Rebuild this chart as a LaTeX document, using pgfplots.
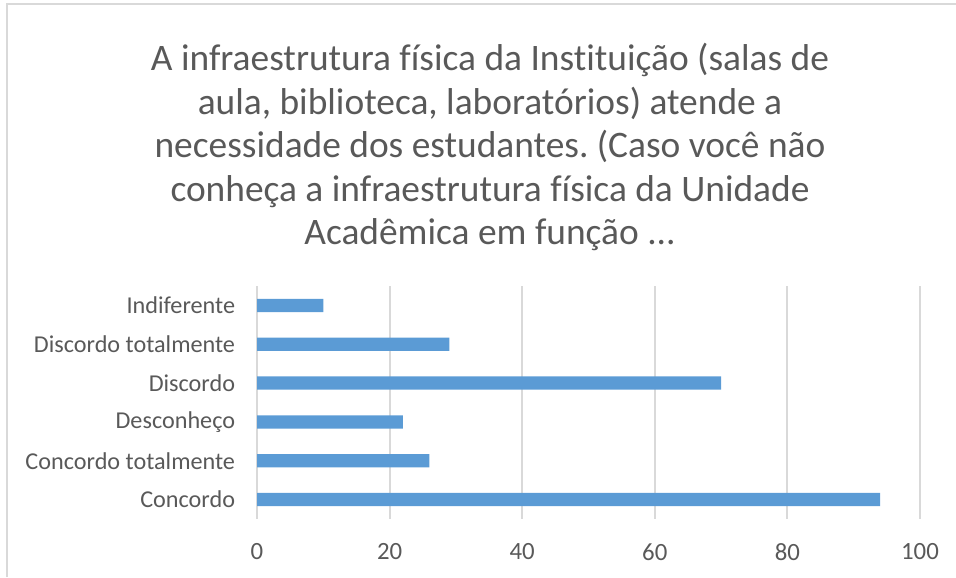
\documentclass[border=0pt]{standalone}
\usepackage{fontspec}
\setmainfont{Carlito}[Ligatures=NoCommon]
\usepackage{pgfplots}
\pgfplotsset{compat=1.18}
\definecolor{barblue}{HTML}{5B9BD5}
\definecolor{gridgrey}{HTML}{D9D9D9}
\definecolor{textgrey}{HTML}{595959}
\frenchspacing
\begin{document}
\begin{tikzpicture}
\useasboundingbox (0,0) rectangle (478pt,288.5pt);
\draw[gridgrey, line width=1pt] (3.5pt,0) -- (3.5pt,286.5pt) -- (478pt,286.5pt);
\begin{scope}[every node/.style={anchor=base, text=textgrey, font=\fontsize{18.7}{21.7}\selectfont, inner sep=0pt}]
\node at (245pt,253pt) {A infraestrutura física da Instituição (salas de};
\node at (245pt,231.25pt) {aula, biblioteca, laboratórios) atende a};
\node at (245pt,209.5pt) {necessidade dos estudantes. (Caso você não};
\node at (245pt,187.75pt) {conheça a infraestrutura física da Unidade};
\node at (245pt,166pt) {Acadêmica em função ...};
\end{scope}
\begin{axis}[
  at={(128.5pt,29pt)}, anchor=south west,
  scale only axis, width=331.5pt, height=116.5pt,
  xbar, bar width=6.65pt,
  xmin=0, xmax=100, ymin=-0.5, ymax=5.5,
  xtick={0,20,40,60,80,100},
  ytick={0,1,2,3,4,5},
  yticklabels={Concordo, Concordo totalmente, Desconheço, Discordo, Discordo totalmente, Indiferente},
  axis line style={draw=none},
  tick style={draw=none},
  xmajorgrids, ymajorgrids=false,
  major grid style={draw=gridgrey, line width=1pt},
  /pgf/number format/assume math mode=true,
  xticklabel style={font=\fontsize{12.4}{15}\selectfont, text=textgrey, anchor=north, inner sep=0pt, yshift=-12pt},
  yticklabel style={font=\fontsize{12.1}{15}\selectfont, text=textgrey, anchor=east, inner sep=0pt, xshift=-6.5pt},
  clip=false,
]
\addplot[fill=barblue, draw=none] coordinates {(94,0) (26,1) (22,2) (70,3) (29,4) (10,5)};
\end{axis}
\end{tikzpicture}
\end{document}
